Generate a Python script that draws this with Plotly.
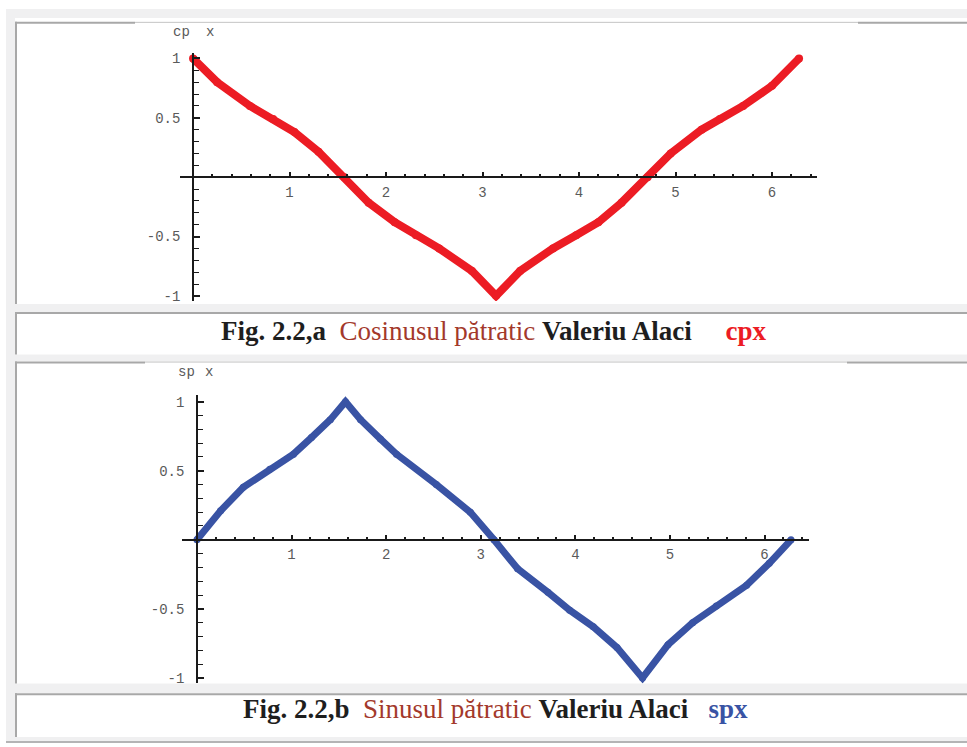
import plotly.graph_objects as go

# ---- data -------------------------------------------------------------
cp_x = [0.00, 0.25, 0.59, 0.83, 1.05, 1.30, 1.57, 1.82, 2.09, 2.31, 2.55, 2.89, 3.14,
        3.39, 3.73, 3.97, 4.20, 4.44, 4.71, 4.95, 5.27, 5.46, 5.70, 6.00, 6.28]
cp_y = [1.00, 0.80, 0.60, 0.49, 0.38, 0.215, 0.00, -0.215, -0.38, -0.49, -0.60, -0.79, -1.00,
        -0.79, -0.60, -0.49, -0.38, -0.215, 0.00, 0.20, 0.40, 0.49, 0.60, 0.77, 1.00]

sp_x = [0.00, 0.25, 0.49, 0.77, 1.02, 1.21, 1.41, 1.57, 1.73, 1.94, 2.11, 2.53, 2.89, 3.14,
        3.39, 3.71, 3.94, 4.19, 4.44, 4.71, 4.98, 5.24, 5.49, 5.81, 6.05, 6.28]
sp_y = [0.00, 0.21, 0.38, 0.51, 0.62, 0.74, 0.87, 1.00, 0.87, 0.73, 0.62, 0.40, 0.20, 0.00,
        -0.21, -0.38, -0.51, -0.63, -0.78, -1.00, -0.76, -0.60, -0.48, -0.33, -0.17, 0.00]

x_tickvals = [1, 2, 3, 4, 5, 6]
x_ticktext = ["1", "2", "3", "4", "5", "6"]
y_tickvals = [-1, -0.5, 0.5, 1]
y_ticktext = ["-1", "-0.5", "0.5", "1"]

caption_a = ("<b>Fig. 2.2,a</b>\u00a0\u00a0"
             "<span style='color:#a3392b'>Cosinusul pătratic</span> "
             "<b>Valeriu Alaci</b>\u00a0\u00a0\u00a0\u00a0\u00a0"
             "<b><span style='color:#ec1c24'>cpx</span></b>")
caption_b = ("<b>Fig. 2.2,b</b>\u00a0\u00a0"
             "<span style='color:#a3392b'>Sinusul pătratic</span> "
             "<b>Valeriu Alaci</b>\u00a0\u00a0\u00a0"
             "<b><span style='color:#3953a4'>spx</span></b>")

# ---- page geometry (pixels) -------------------------------------------
W, H = 967, 747
RED = "#ec1c24"
BLUE = "#3953a4"
AXC = "#1a1a1a"
LBL = "#5a5a5a"
MONO = "Liberation Mono"


def fx(p):
    return p / W


def fy(p):
    return 1 - p / H


# plot panels: pixel box of the axes and data ranges
panels = [
    dict(box=(180, 817, 52, 302), xr=[-0.135, 6.466], yr=[-1.043, 1.049]),
    dict(box=(182, 809, 397, 687), xr=[-0.158, 6.47], yr=[-1.04, 1.046]),
]

fig = go.Figure()
fig.add_trace(go.Scatter(x=cp_x, y=cp_y, mode="lines+markers", xaxis="x", yaxis="y",
                         line=dict(color=RED, width=8),
                         marker=dict(color=RED, size=8, line=dict(width=0)),
                         cliponaxis=False, hoverinfo="skip", showlegend=False))
fig.add_trace(go.Scatter(x=sp_x, y=sp_y, mode="lines+markers", xaxis="x2", yaxis="y2",
                         line=dict(color=BLUE, width=7),
                         marker=dict(color=BLUE, size=7, line=dict(width=0)),
                         cliponaxis=False, hoverinfo="skip", showlegend=False))

layout = dict(width=W, height=H, margin=dict(l=0, r=0, t=0, b=0),
              paper_bgcolor="white", plot_bgcolor="rgba(0,0,0,0)", showlegend=False)

for i, p in enumerate(panels):
    x0, x1, y0, y1 = p["box"]
    xd = [fx(x0), fx(x1)]
    yd = [fy(y1), fy(y0)]
    xr, yr = p["xr"], p["yr"]
    # where the axes cross (data zero), in paper fractions
    xpos = xd[0] + (0 - xr[0]) / (xr[1] - xr[0]) * (xd[1] - xd[0])
    ypos = yd[0] + (0 - yr[0]) / (yr[1] - yr[0]) * (yd[1] - yd[0])
    sx = "xaxis" if i == 0 else "xaxis2"
    sy = "yaxis" if i == 0 else "yaxis2"
    layout[sx] = dict(domain=xd, range=xr, anchor="free", position=ypos,
                      showline=True, linecolor=AXC, linewidth=1.6,
                      showgrid=False, zeroline=False,
                      ticks="inside", ticklen=4, tickwidth=1.6, tickcolor=AXC,
                      tickvals=x_tickvals, ticktext=x_ticktext,
                      tickfont=dict(family=MONO, size=14, color=LBL),
                      ticklabelstandoff=2,
                      minor=dict(ticks="inside", ticklen=2, tickwidth=2, tickcolor=AXC,
                                 dtick=0.2, tick0=0, showgrid=False),
                      fixedrange=True)
    layout[sy] = dict(domain=yd, range=yr, anchor="free", position=xpos,
                      showline=True, linecolor=AXC, linewidth=1.6,
                      showgrid=False, zeroline=False,
                      ticks="inside", ticklen=6, tickwidth=1.6, tickcolor=AXC,
                      tickvals=y_tickvals, ticktext=y_ticktext,
                      tickfont=dict(family=MONO, size=14, color=LBL),
                      ticklabelstandoff=9,
                      minor=dict(ticks="inside", ticklen=5, tickwidth=1.4, tickcolor=AXC,
                                 dtick=0.1, tick0=0, showgrid=False),
                      fixedrange=True)

# ---- page frame: grey table background, white cells, borders -----------
BG = "#f0f0f1"
BORDER = "#a8a8a8"
THIN = "#c4c4c4"
shapes = []


def rect(xa, xb, ya, yb, color):
    shapes.append(dict(type="rect", xref="paper", yref="paper", layer="below",
                       x0=fx(xa), x1=fx(xb), y0=fy(yb), y1=fy(ya),
                       fillcolor=color, line=dict(width=0)))


def hline(xa, xb, y, color, w):
    shapes.append(dict(type="line", xref="paper", yref="paper", layer="below",
                       x0=fx(xa), x1=fx(xb), y0=fy(y), y1=fy(y),
                       line=dict(color=color, width=w)))


def vline(x, ya, yb, color, w):
    shapes.append(dict(type="line", xref="paper", yref="paper", layer="below",
                       x0=fx(x), x1=fx(x), y0=fy(ya), y1=fy(yb),
                       line=dict(color=color, width=w)))


rect(6, W, 8, H, BG)
# cells: (top border y, bottom y, thin-image span or None)
cells = [(21, 305, (135, 858)), (313, 356, None), (363, 687, (145, 847)), (697, 741, None)]
for top, bot, span in cells:
    rect(15, W, top - 4 if top == 21 else top, bot, "white")
    if span is None:
        hline(15, W, top + 1, BORDER, 2)
    else:
        hline(15, span[0], top + 1, BORDER, 2)
        hline(span[0], span[1], top + 0.5, THIN, 1)
        hline(span[1], W, top + 1, BORDER, 2)
    vline(16, top, bot, BORDER, 2)
hline(6, W, 746, "#a0a0a0", 1.5)
layout["shapes"] = shapes

# ---- text: axis names and captions -------------------------------------
ann = []
lab = dict(showarrow=False, font=dict(family=MONO, size=14, color=LBL))
# plot 1 labels
ann.append(dict(text="cp", xref="paper", yref="paper", x=fx(171), y=fy(31),
                xanchor="left", yanchor="middle", **lab))
ann.append(dict(text="x", xref="paper", yref="paper", x=fx(210), y=fy(31),
                xanchor="center", yanchor="middle", **lab))
ann.append(dict(text="x", xref="x", yref="y", x=6.69, y=0,
                xanchor="center", yanchor="middle", **lab))
# plot 2 labels
ann.append(dict(text="sp", xref="paper", yref="paper", x=fx(176), y=fy(374),
                xanchor="left", yanchor="middle", **lab))
ann.append(dict(text="x", xref="paper", yref="paper", x=fx(209), y=fy(374),
                xanchor="center", yanchor="middle", **lab))
ann.append(dict(text="x", xref="x2", yref="y2", x=6.70, y=0,
                xanchor="center", yanchor="middle", **lab))
# captions
cap_font = dict(family="Liberation Serif", size=27, color="#1e1e1e")
ann.append(dict(text=caption_a, xref="paper", yref="paper", x=fx(494), y=fy(332),
                xanchor="center", yanchor="middle", showarrow=False, font=cap_font))
ann.append(dict(text=caption_b, xref="paper", yref="paper", x=fx(495), y=fy(713),
                xanchor="center", yanchor="middle", showarrow=False, font=cap_font))
layout["annotations"] = ann

fig.update_layout(**layout)
fig.write_html("out.html")
